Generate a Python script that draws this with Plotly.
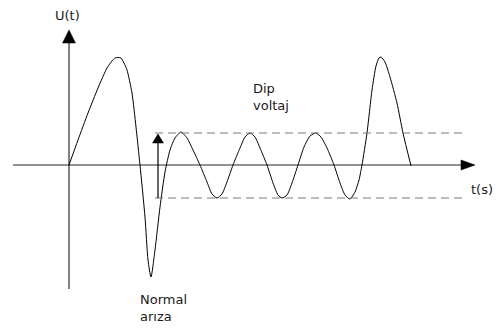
import plotly.graph_objects as go

# Waveform (t: arbitrary time units, U: arbitrary voltage units)
t_values = [0, 9, 19, 29, 38, 43, 46, 49, 52, 55, 58, 63, 67, 71, 76, 79, 82, 86, 91, 96,
            101, 106, 112, 118, 124, 131, 138, 143, 148, 153, 158, 164, 171, 176, 181, 186,
            191, 198, 204, 209, 213, 218, 223, 229, 235, 241, 247, 252, 258, 265, 271, 276,
            281, 286, 290, 293, 298, 303, 307, 310, 312, 316, 321, 328, 334, 342]
u_values = [0, 25, 52, 77, 97, 104, 107, 107.5, 107, 102, 95, 72, 38, 0, -52, -95, -112, -85, -42, -7,
            15, 27, 33, 27, 15, 0, -17, -29, -33, -29, -17, 0, 17, 28, 32, 28,
            17, 0, -18, -30, -33, -30, -18, 0, 18, 29, 32, 28, 17, 0, -18, -30,
            -34, -27, -15, 0, 32, 75, 99, 107, 108, 103, 88, 62, 32, -1]

# Dip voltage band
dip_upper = 32
dip_lower = -33
dip_start = 86
dip_end = 393

# Axis extents
t_axis_min, t_axis_max = -56, 406
u_axis_min, u_axis_max = -124, 135

# Labels
label_u = "U(t)"
label_t = "t(s)"
label_dip = "Dip<br>voltaj"
label_fault = "Normal<br>arıza"

FONT = dict(family="DejaVu Sans", size=13, color="#1a1a1a")

fig = go.Figure()
fig.add_trace(go.Scatter(x=t_values, y=u_values, mode="lines",
                         line=dict(color="black", width=1, shape="spline", smoothing=0.6),
                         hoverinfo="skip", showlegend=False))

shapes = []
# x axis
shapes.append(dict(type="line", x0=t_axis_min, x1=t_axis_max - 10, y0=0, y1=0,
                   line=dict(color="#6e6e6e", width=1.6), layer="below"))
shapes.append(dict(type="path", path=f"M {t_axis_max-14},-5 L {t_axis_max},0 L {t_axis_max-14},5 Z",
                   fillcolor="black", line=dict(color="black", width=0.5)))
# y axis
shapes.append(dict(type="line", x0=0, x1=0, y0=u_axis_min, y1=u_axis_max - 10,
                   line=dict(color="black", width=1), layer="below"))
shapes.append(dict(type="path", path=f"M -6.5,{u_axis_max-13} L 0,{u_axis_max} L 6.5,{u_axis_max-13} Z",
                   fillcolor="black", line=dict(color="black", width=0.5)))
# dip band dashed lines
for lvl in (dip_upper, dip_lower):
    shapes.append(dict(type="line", x0=dip_start, x1=dip_end, y0=lvl, y1=lvl,
                       line=dict(color="#7a7a7a", width=1, dash="8px,5px")))
# vertical arrow showing dip
ax = 89
shapes.append(dict(type="line", x0=ax, x1=ax, y0=dip_lower, y1=dip_upper - 8,
                   line=dict(color="black", width=1.2)))
shapes.append(dict(type="path", path=f"M {ax-5.5},{dip_upper-10} L {ax},{dip_upper-1} L {ax+5.5},{dip_upper-10} Z",
                   fillcolor="black", line=dict(color="black", width=0.5)))

annotations = [
    dict(x=-1.5, y=150, text=label_u, xanchor="center", yanchor="middle"),
    dict(x=413, y=-24, text=label_t, xanchor="center", yanchor="middle"),
    dict(x=182, y=86, text=label_dip, xanchor="left", yanchor="top", align="left"),
    dict(x=69, y=-125, text=label_fault, xanchor="left", yanchor="top", align="left"),
]
for a in annotations:
    a.update(showarrow=False, font=FONT, xref="x", yref="y")

fig.update_layout(
    width=499, height=331,
    margin=dict(l=0, r=0, t=0, b=0),
    paper_bgcolor="white", plot_bgcolor="white",
    xaxis=dict(range=[-69, 430], visible=False, fixedrange=True),
    yaxis=dict(range=[-166, 165], visible=False, fixedrange=True),
    shapes=shapes, annotations=annotations, showlegend=False,
)
fig.write_html("out.html", config={"displayModeBar": False, "staticPlot": True},
               post_script="document.body.style.margin='0';document.body.style.overflow='hidden';")
